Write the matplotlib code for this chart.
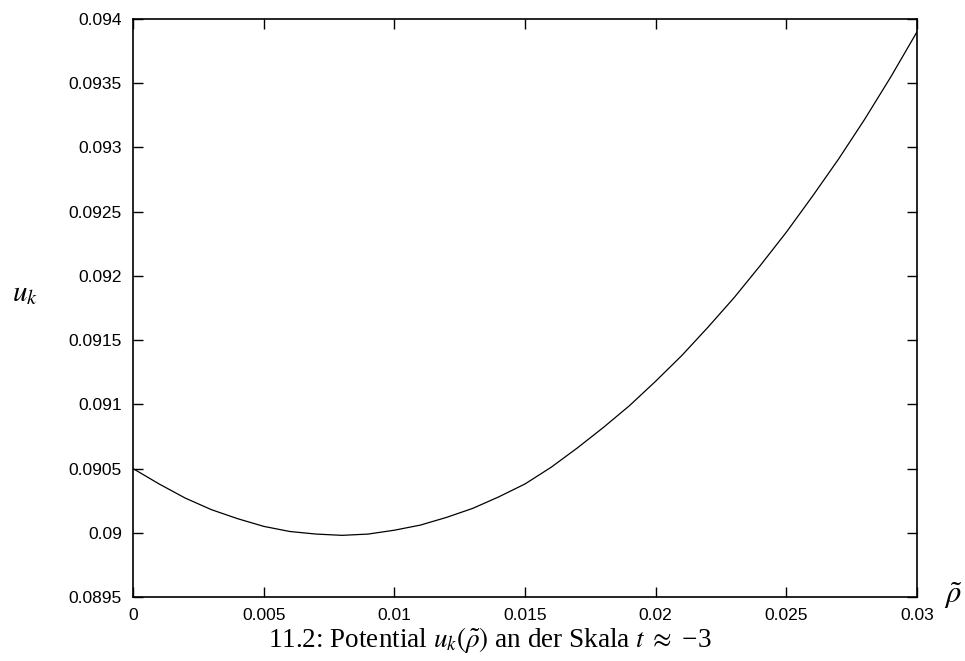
import numpy as np
import matplotlib
matplotlib.use("Agg")
import matplotlib.pyplot as plt

# potential u_k(rho~)
rho = [0.000, 0.001, 0.002, 0.003, 0.004, 0.005, 0.006, 0.007, 0.008, 0.009,
       0.010, 0.011, 0.012, 0.013, 0.014, 0.015, 0.016, 0.017, 0.018, 0.019,
       0.020, 0.021, 0.022, 0.023, 0.024, 0.025, 0.026, 0.027, 0.028, 0.029,
       0.030]
u_k = [0.09050, 0.09038, 0.09027, 0.09018, 0.09011, 0.09005, 0.09001, 0.08999,
       0.08998, 0.08999, 0.09002, 0.09006, 0.09012, 0.09019, 0.09028, 0.09038,
       0.09051, 0.09066, 0.09082, 0.09099, 0.09118, 0.09138, 0.09160, 0.09183,
       0.09208, 0.09234, 0.09262, 0.09291, 0.09322, 0.09355, 0.09390]

xticks = [0, 0.005, 0.01, 0.015, 0.02, 0.025, 0.03]
xticklabels = ["0", "0.005", "0.01", "0.015", "0.02", "0.025", "0.03"]
yticks = [0.0895, 0.09, 0.0905, 0.091, 0.0915, 0.092, 0.0925, 0.093, 0.0935, 0.094]
yticklabels = ["0.0895", "0.09", "0.0905", "0.091", "0.0915", "0.092",
               "0.0925", "0.093", "0.0935", "0.094"]

plt.rcParams['font.family'] = ['Liberation Sans', 'DejaVu Sans']
plt.rcParams['mathtext.fontset'] = 'stix'

fig = plt.figure(figsize=(9.65, 6.61), dpi=100)
ax = fig.add_axes([133 / 965, 64 / 661, 784 / 965, 578 / 661])

ax.plot(rho, u_k, color='black', linewidth=0.9)

ax.set_xlim(0, 0.03)
ax.set_ylim(0.0895, 0.094)
ax.set_xticks(xticks)
ax.set_xticklabels(xticklabels)
ax.set_yticks(yticks)
ax.set_yticklabels(yticklabels)
ax.tick_params(direction='in', length=7, width=1, labelsize=12.5,
               top=True, right=True, pad=8)
for s in ax.spines.values():
    s.set_linewidth(1.2)

fig.text(25 / 965, 1 - 293 / 661, r'$u_k$', fontsize=21, ha='center', va='center')
fig.text(953 / 965, 1 - 596 / 661, r'$\tilde{\rho}$', fontsize=22, ha='center', va='center')
fig.text(490 / 965, 1 - 640 / 661,
         r'11.2: Potential $u_k(\tilde{\rho})$ an der Skala $t\;\approx$ −3',
         fontsize=19.5, ha='center', va='center', family='Liberation Serif')

fig.savefig('out.png', dpi=100)
